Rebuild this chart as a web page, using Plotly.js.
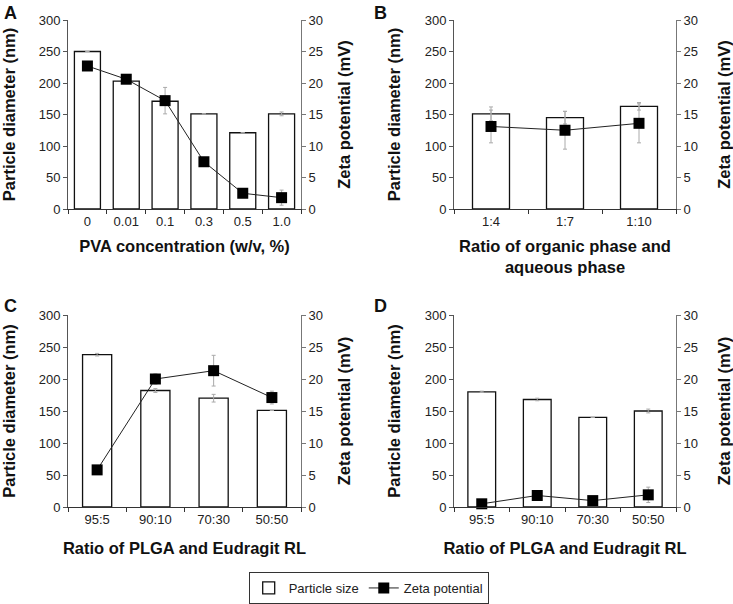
<!DOCTYPE html>
<html>
<head>
<meta charset="utf-8">
<script src="https://cdn.plot.ly/plotly-3.0.1.min.js"></script>
<style>html,body{margin:0;padding:0;background:#fff;}#chart{width:733px;height:604px;}</style>
</head>
<body>
<div id="chart"></div>
<script>
// ---- Data ----
const catA = ['0', '0.01', '0.1', '0.3', '0.5', '1.0'];
const sizeA = [250, 203, 171, 151, 121, 151];
const sizeErrA = [null, 2, null, null, null, 3];
const zetaA = [22.7, 20.6, 17.2, 7.5, 2.5, 1.8];
const zetaErrA = [0.3, 0.3, 2.1, null, null, 1.2];

const catB = ['1:4', '1:7', '1:10'];
const sizeB = [151, 145, 163];
const sizeErrB = [11, 10, 6];
const zetaB = [13.1, 12.5, 13.6];
const zetaErrB = [2.6, 3.0, 3.1];

const catC = ['95:5', '90:10', '70:30', '50:50'];
const sizeC = [238, 182, 170, 151];
const sizeErrC = [2, 3, 6, null];
const zetaC = [5.8, 20.0, 21.3, 17.1];
const zetaErrC = [null, 0.8, 2.4, 1.0];

const catD = ['95:5', '90:10', '70:30', '50:50'];
const sizeD = [180, 168, 140, 150];
const sizeErrD = [1, 2, null, 3];
const zetaD = [0.5, 1.8, 1.0, 1.9];
const zetaErrD = [null, null, null, 1.2];

const panelLetters = ['A', 'B', 'C', 'D'];
const xTitles = ['PVA concentration (w/v, %)', 'Ratio of organic phase and<br>aqueous phase',
                 'Ratio of PLGA and Eudragit RL', 'Ratio of PLGA and Eudragit RL'];
const yLeftTitle = 'Particle diameter (nm)';
const yRightTitle = 'Zeta potential (mV)';
const seriesNames = ['Particle size', 'Zeta potential'];

// ---- Build ----
const FONT = 'Liberation Sans, Arial, sans-serif';
const panels = [
  {cat: catA, size: sizeA, sErr: sizeErrA, zeta: zetaA, zErr: zetaErrA},
  {cat: catB, size: sizeB, sErr: sizeErrB, zeta: zetaB, zErr: zetaErrB},
  {cat: catC, size: sizeC, sErr: sizeErrC, zeta: zetaC, zErr: zetaErrC},
  {cat: catD, size: sizeD, sErr: sizeErrD, zeta: zetaD, zErr: zetaErrD}
];
const W = 733, H = 604;
const xDom = [[68 / W, 301 / W], [454 / W, 676 / W], [68 / W, 301 / W], [454 / W, 676 / W]];
const yDom = [[1 - 209 / H, 1 - 20 / H], [1 - 209 / H, 1 - 20 / H], [1 - 507 / H, 1 - 315 / H], [1 - 507 / H, 1 - 315 / H]];
const barGaps = [0.33, 0.5, 0.5, 0.5];

const traces = [];
const layout = {
  width: W, height: H,
  margin: {l: 0, r: 0, t: 0, b: 0, pad: 0},
  paper_bgcolor: '#fff', plot_bgcolor: 'rgba(0,0,0,0)',
  font: {family: FONT, size: 13, color: '#222'},
  showlegend: true,
  legend: {orientation: 'h', x: 0.503, xanchor: 'center', y: 1 - 588 / H, yanchor: 'middle',
           bordercolor: '#333', borderwidth: 1, font: {size: 13, color: '#222'},
           itemwidth: 30, tracegroupgap: 0},
  annotations: [],
  barmode: 'group'
};

panels.forEach((p, i) => {
  const n = i + 1;
  const xa = n === 1 ? 'x' : 'x' + n;
  const yl = 'y' + (2 * i + 1 === 1 ? '' : 2 * i + 1);
  const yr = 'y' + (2 * i + 2);
  traces.push({
    type: 'bar', x: p.cat, y: p.size, xaxis: xa, yaxis: yl,
    name: seriesNames[0], legendgroup: 'size', showlegend: i === 0,
    marker: {color: '#fff', line: {color: '#111', width: 1.3}},
    error_y: {type: 'data', array: p.sErr, visible: true, color: '#aaa', thickness: 1, width: 2},
    width: 1 - barGaps[i]
  });
  traces.push({
    type: 'scatter', mode: 'lines+markers', x: p.cat, y: p.zeta, xaxis: xa, yaxis: yr,
    name: seriesNames[1], legendgroup: 'zeta', showlegend: i === 0, cliponaxis: false,
    line: {color: '#222', width: 1},
    marker: {symbol: 'square', size: 11, color: '#000'},
    error_y: {type: 'data', array: p.zErr, visible: true, color: '#aaa', thickness: 1, width: 2}
  });
  const xKey = n === 1 ? 'xaxis' : 'xaxis' + n;
  const ylKey = 'yaxis' + (2 * i + 1 === 1 ? '' : 2 * i + 1);
  const yrKey = 'yaxis' + (2 * i + 2);
  layout[xKey] = {
    domain: xDom[i], anchor: yl, type: 'category',
    showgrid: false, zeroline: false, showline: true, linecolor: '#333', linewidth: 1,
    ticks: 'outside', tickson: 'boundaries', ticklen: 4, tickcolor: '#333',
    tickfont: {size: 13, color: '#222'},
    title: {text: xTitles[i], font: {size: 16.5, color: '#111', family: FONT, weight: 'bold'}, standoff: i < 2 ? 12 : 16},
    fixedrange: true
  };
  layout[ylKey] = {
    domain: yDom[i], anchor: xa, range: [0, 300], dtick: 50,
    showgrid: false, zeroline: false, showline: true, linecolor: '#555', linewidth: 1,
    ticks: 'outside', ticklen: 4, tickcolor: '#555',
    tickfont: {size: 13, color: '#222'},
    title: {text: yLeftTitle, font: {size: 16.5, color: '#111', family: FONT, weight: 'bold'}, standoff: 19}
  };
  layout[yrKey] = {
    domain: yDom[i], anchor: xa, overlaying: yl, side: 'right', range: [0, 30], dtick: 5,
    showgrid: false, zeroline: false, showline: true, linecolor: '#777', linewidth: 1,
    ticks: 'outside', ticklen: 4, tickcolor: '#777',
    tickfont: {size: 13, color: '#222'},
    title: {text: yRightTitle, font: {size: 16.5, color: '#111', family: FONT, weight: 'bold'}, standoff: i % 2 === 0 ? 16 : 26}
  };
  layout.annotations.push({
    text: panelLetters[i], xref: 'paper', yref: 'paper', showarrow: false,
    x: i % 2 === 0 ? 2 / W : 372 / W, y: i < 2 ? 1 - 1 / H : 1 - 294 / H,
    xanchor: 'left', yanchor: 'top',
    font: {size: 18, color: '#111', family: FONT, weight: 'bold'}
  });
});

Plotly.newPlot('chart', traces, layout, {staticPlot: true, displayModeBar: false});
</script>
</body>
</html>
